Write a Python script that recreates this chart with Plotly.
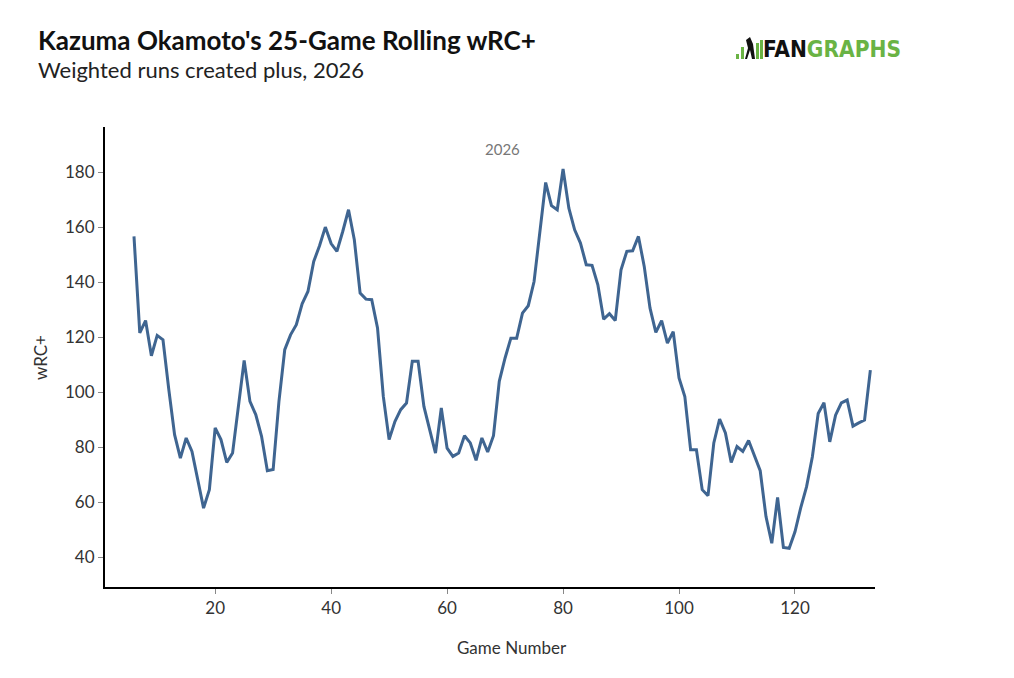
import plotly.graph_objects as go

# 25-game rolling wRC+ by game number
games = list(range(6, 134))
wrc_plus = [
    156.6, 121.5, 126.0, 113.2, 120.6, 119.0, 101.0, 84.5, 76.0, 83.3,
    78.4, 67.5, 57.8, 64.5, 87.0, 82.7, 74.4, 77.8, 94.8, 111.5,
    96.6, 91.8, 83.9, 71.4, 71.8, 96.6, 115.4, 120.8, 124.5, 132.1,
    136.6, 147.5, 153.2, 160.0, 154.0, 151.2, 158.4, 166.3, 155.4, 136.0,
    133.8, 133.6, 123.3, 98.4, 82.7, 89.3, 93.6, 96.0, 111.2, 111.2,
    94.8, 85.7, 77.8, 94.2, 79.6, 76.6, 77.8, 84.1, 81.5, 75.2,
    83.3, 78.2, 84.1, 103.9, 112.4, 119.6, 119.6, 128.7, 131.4, 140.2,
    159.0, 176.2, 167.8, 166.3, 181.1, 166.9, 159.0, 154.2, 146.3, 146.1,
    139.0, 126.5, 128.5, 126.0, 144.5, 151.2, 151.4, 156.6, 145.7, 130.5,
    121.7, 126.0, 117.8, 122.0, 105.1, 98.4, 79.0, 79.0, 64.5, 62.3,
    81.5, 90.2, 85.1, 74.4, 80.2, 78.4, 82.4, 77.1, 71.4, 54.7,
    45.0, 61.7, 43.5, 43.2, 49.2, 58.0, 65.6, 76.5, 92.2, 96.1,
    81.9, 91.6, 96.1, 97.1, 87.6, 88.8, 89.8, 108.0,
]
x_ticks = [20, 40, 60, 80, 100, 120]
y_ticks = [40, 60, 80, 100, 120, 140, 160, 180]

FONT = "Lato, 'Open Sans', sans-serif"
LOGO_FONT = "'Liberation Sans Narrow', 'DejaVu Sans Condensed', 'Liberation Sans', Arial, sans-serif"
GREEN = "#6ab344"

# plot area in page pixels (the page body adds an 8px offset)
L, T, PW, PH = 97, 119, 770, 460


def px(x):
    return (x - 105) / PW


def py(y):
    return 1 - (y - 127) / PH


fig = go.Figure()
fig.add_trace(go.Scatter(
    x=games, y=wrc_plus, mode="lines",
    line=dict(color="#3f6591", width=3),
    hoverinfo="x+y", showlegend=False,
))

fig.update_layout(
    width=1014, height=678,
    margin=dict(l=L, r=1014 - L - PW, t=T, b=678 - T - PH),
    paper_bgcolor="white", plot_bgcolor="white",
    font=dict(family=FONT, size=17, color="#333333"),
    xaxis=dict(
        range=[1, 133.8], tickvals=x_ticks, showgrid=False, zeroline=False,
        showline=True, linecolor="black", linewidth=2,
        ticks="outside", ticklen=5, tickcolor="#888888", tickwidth=1,
        tickfont=dict(size=17, color="#333333"),
    ),
    yaxis=dict(
        range=[29.1, 196.4], tickvals=y_ticks, showgrid=False, zeroline=False,
        showline=True, linecolor="black", linewidth=2,
        ticks="outside", ticklen=5, tickcolor="#888888", tickwidth=1,
        tickfont=dict(size=17, color="#333333"),
    ),
)

# titles and labels
fig.add_annotation(text="<b>Kazuma Okamoto's 25-Game Rolling wRC+</b>",
                   xref="paper", yref="paper", x=px(36), y=py(40),
                   xanchor="left", yanchor="middle", showarrow=False,
                   font=dict(size=26, color="#111111", family=FONT))
fig.add_annotation(text="Weighted runs created plus, 2026",
                   xref="paper", yref="paper", x=px(36), y=py(69),
                   xanchor="left", yanchor="middle", showarrow=False,
                   font=dict(size=22, color="#222222", family=FONT))
fig.add_annotation(text="2026", xref="paper", yref="paper", x=px(502), y=py(149),
                   xanchor="center", yanchor="middle", showarrow=False,
                   font=dict(size=15, color="#777777", family=FONT))
fig.add_annotation(text="wRC+", xref="paper", yref="paper", x=px(40), y=py(358),
                   xanchor="center", yanchor="middle", textangle=-90,
                   showarrow=False, font=dict(size=17, color="#333333", family=FONT))
fig.add_annotation(text="Game Number", xref="paper", yref="paper", x=px(512), y=py(647),
                   xanchor="center", yanchor="middle", showarrow=False,
                   font=dict(size=17, color="#333333", family=FONT))

# FanGraphs logo: wordmark plus little bars and batter
fig.add_annotation(text="<b><span style='color:#111111'>FAN</span>"
                        f"<span style='color:{GREEN}'>GRAPHS</span></b>",
                   xref="paper", yref="paper", x=px(761), y=py(49),
                   xanchor="left", yanchor="middle", showarrow=False,
                   font=dict(size=22.5, family=LOGO_FONT))
bars = [(736, 54), (741, 47), (756, 43), (760, 40)]
for bx, btop in bars:
    fig.add_shape(type="rect", xref="paper", yref="paper",
                  x0=px(bx), x1=px(bx + 3), y0=py(59), y1=py(btop),
                  fillcolor=GREEN, line=dict(width=0))
fig.add_shape(type="path", xref="paper", yref="paper",
              path=(f"M {px(745)},{py(59)} L {px(748)},{py(48)} L {px(746)},{py(40)} "
                    f"L {px(750)},{py(37)} L {px(753)},{py(44)} L {px(755)},{py(59)} "
                    f"L {px(752)},{py(59)} L {px(750)},{py(50)} L {px(747)},{py(59)} Z"),
              fillcolor="#111111", line=dict(width=0))

fig.write_html("out.html")
